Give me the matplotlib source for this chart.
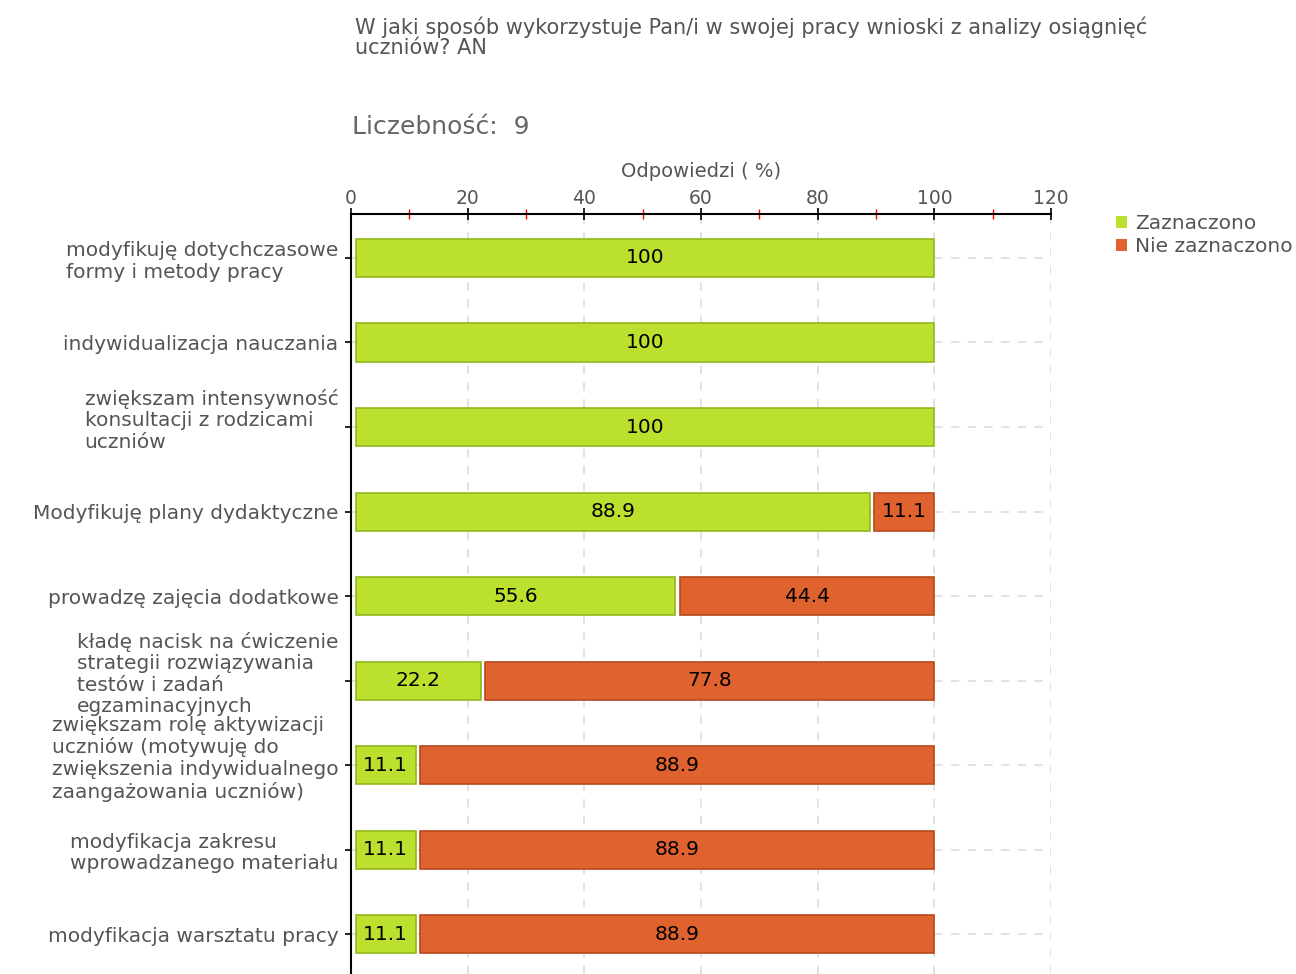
import matplotlib
matplotlib.use("Agg")
import matplotlib.pyplot as plt
import matplotlib.transforms as mtransforms
from matplotlib.patches import Patch
from matplotlib.ticker import MultipleLocator
import numpy as np

categories = [
    "modyfikuję dotychczasowe\nformy i metody pracy",
    "indywidualizacja nauczania",
    "zwiększam intensywność\nkonsultacji z rodzicami\nuczniów",
    "Modyfikuję plany dydaktyczne",
    "prowadzę zajęcia dodatkowe",
    "kładę nacisk na ćwiczenie\nstrategii rozwiązywania\ntestów i zadań\negzaminacyjnych",
    "zwiększam rolę aktywizacji\nuczniów (motywuję do\nzwiększenia indywidualnego\nzaangażowania uczniów)",
    "modyfikacja zakresu\nwprowadzanego materiału",
    "modyfikacja warsztatu pracy",
]
zaznaczono = [100, 100, 100, 88.9, 55.6, 22.2, 11.1, 11.1, 11.1]
nie_zaznaczono = [0, 0, 0, 11.1, 44.4, 77.8, 88.9, 88.9, 88.9]
series_names = ["Zaznaczono", "Nie zaznaczono"]
title = "W jaki sposób wykorzystuje Pan/i w swojej pracy wnioski z analizy osiągnięć\nuczniów? AN"
count_text = "Liczebność:  9"
xlabel = "Odpowiedzi ( %)"

green, green_edge = "#bce02e", "#93b81c"
orange, orange_edge = "#e0632f", "#b8481c"
gray = "#555555"

plt.rcParams['font.family'] = 'sans-serif'
plt.rcParams['font.sans-serif'] = ['DejaVu Sans']
FS = 14.5

fig = plt.figure(figsize=(12.96, 9.74), dpi=100)
ax = fig.add_axes([351/1296, 0.0, (1051-351)/1296, 1 - 214/974])

y = np.arange(len(categories))
inset = 0.8
h = 0.45
z = np.array(zaznaczono)
n = np.array(nie_zaznaczono)
ax.barh(y, z - inset, left=inset, height=h, color=green, edgecolor=green_edge, linewidth=1.2, zorder=3)
mask = n > 0
ax.barh(y[mask], n[mask] - inset, left=z[mask] + inset, height=h, color=orange,
        edgecolor=orange_edge, linewidth=1.2, zorder=3)

for i in range(len(categories)):
    ax.text(z[i] / 2 + inset / 2, y[i], f"{z[i]:g}", ha='center', va='center',
            fontsize=FS, color='black', zorder=4)
    if n[i] > 0:
        ax.text(z[i] + (n[i] + inset) / 2, y[i], f"{n[i]:g}", ha='center', va='center',
                fontsize=FS, color='black', zorder=4)

ax.set_xlim(0, 120)
ax.set_ylim(8.47, -0.52)
ax.xaxis.set_major_locator(MultipleLocator(20))
ax.xaxis.set_minor_locator(MultipleLocator(10))
ax.xaxis.tick_top()
ax.xaxis.set_label_position('top')
ax.set_xlabel(xlabel, fontsize=14, color=gray, labelpad=9)
ax.tick_params(axis='x', which='major', direction='inout', length=8, width=1.2,
               colors='black', labelcolor=gray, labelsize=13.5, pad=0)
ax.tick_params(axis='x', which='minor', direction='inout', length=7, width=1, colors='red')
ax.set_yticks(y)
ax.set_yticklabels(categories, fontsize=FS, color=gray, ha='right', multialignment='left',
                   linespacing=1.17)
ax.tick_params(axis='y', direction='out', length=4, width=1.2, colors='black', labelcolor=gray, pad=5)

# long wrapped labels sit a little above their bar in the original
shift = mtransforms.ScaledTranslation(0, 10/100, fig.dpi_scale_trans)
for lab in ax.get_yticklabels():
    if lab.get_text().count("\n") >= 2:
        lab.set_transform(lab.get_transform() + shift)

for s in ['right', 'bottom']:
    ax.spines[s].set_visible(False)
for s in ['top', 'left']:
    ax.spines[s].set_linewidth(1.5)
    ax.spines[s].set_color('black')

ax.grid(True, which='major', axis='both', linestyle=(0, (5, 5)), color='#dddddd', linewidth=1.2, zorder=0)
ax.set_axisbelow(True)

fig.text(355/1296, 1 - 17/974, title, ha='left', va='top', fontsize=15, color=gray, linespacing=1.0)
fig.text(352/1296, 1 - 127/974, count_text, ha='left', va='center', fontsize=18, color='#666666')

handles = [Patch(facecolor=green, edgecolor='none'), Patch(facecolor=orange, edgecolor='none')]
leg = fig.legend(handles, series_names, loc='upper left', bbox_to_anchor=(1108/1296, 1 - 206/974),
                 frameon=False, fontsize=FS, handlelength=0.55, handleheight=0.55,
                 handletextpad=0.4, labelspacing=0.2, borderaxespad=0)
for t in leg.get_texts():
    t.set_color(gray)

fig.savefig("out.png", dpi=100)
